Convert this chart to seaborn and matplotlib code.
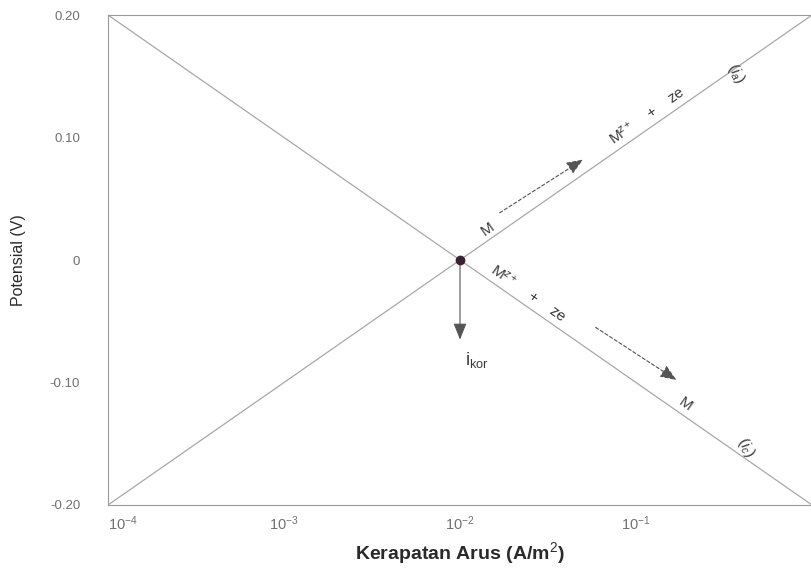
import matplotlib
matplotlib.use("Agg")
import matplotlib.pyplot as plt
import numpy as np
import pandas as pd
import seaborn as sns

# Tafel lines (current density in A/m^2, potential in V)
current = [1e-4, 1e0]
anodic_potential = [-0.20, 0.20]
cathodic_potential = [0.20, -0.20]

# corrosion point
i_kor = 1e-2
e_kor = 0.0

y_ticks = [0.20, 0.10, 0.0, -0.10, -0.20]
y_tick_labels = ["0.20", "0.10", "0", "-0.10", "-0.20"]
x_ticks = [1e-4, 1e-3, 1e-2, 1e-1]
x_tick_labels = ["10$^{-4}$", "10$^{-3}$", "10$^{-2}$", "10$^{-1}$"]

sns.set_style("white")
plt.rcParams["font.family"] = ["Liberation Sans", "DejaVu Sans"]
plt.rcParams["mathtext.fontset"] = "custom"
plt.rcParams["mathtext.rm"] = "Liberation Sans"
plt.rcParams["mathtext.it"] = "Liberation Sans:italic"

df = pd.DataFrame({
    "i": current + current,
    "E": anodic_potential + cathodic_potential,
    "branch": ["anodic"] * 2 + ["cathodic"] * 2,
})

fig = plt.figure(figsize=(8.11, 5.69), dpi=100)
ax = fig.add_axes([0.1332, 0.1125, 0.868, 0.8611])

line_col = "#a8a8a8"
sns.lineplot(data=df, x="i", y="E", units="branch", estimator=None,
             color=line_col, linewidth=0.9, ax=ax, legend=False)

ax.set_xscale("log")
ax.set_xlim(1e-4, 1e0)
ax.set_ylim(-0.20, 0.20)

for side in ["left", "bottom", "top", "right"]:
    ax.spines[side].set_color("#9a9a9a")
    ax.spines[side].set_linewidth(0.8)

ax.set_yticks(y_ticks)
ax.set_yticklabels(y_tick_labels)
ax.set_xticks(x_ticks)
ax.set_xticklabels(x_tick_labels)
ax.minorticks_off()
ax.tick_params(axis="y", length=0, pad=20, labelsize=9.5, labelcolor="#707070")
ax.tick_params(axis="x", length=0, pad=7, labelsize=10.5, labelcolor="#707070")
ax.get_xticklabels()[0].set_ha("left")

ax.set_ylabel("Potensial (V)", fontsize=11.5, color="#2a2a2a")
ax.yaxis.set_label_coords(-0.117, 0.5)
ax.set_xlabel("Kerapatan Arus (A/m$^2$)", fontsize=14, color="#2a2a2a",
              fontweight="bold")
ax.xaxis.set_label_coords(0.5, -0.072)

# corrosion point
ax.plot([i_kor], [e_kor], marker="o", markersize=6, color="#3a2233", zorder=5)

dash_kw = dict(arrowstyle="-|>,head_length=1.0,head_width=0.4", lw=0.8,
               linestyle=(0, (3, 2)), shrinkA=0, shrinkB=0,
               color="#555555", facecolor="#2b1f26")

# anodic reaction arrow (above the anodic line)
ax.annotate("", xy=(0.050, 0.082), xytext=(0.0168, 0.0385), arrowprops=dash_kw)
# cathodic reaction arrow
ax.annotate("", xy=(0.17, -0.098), xytext=(0.059, -0.055), arrowprops=dash_kw)
# i_kor arrow
ax.annotate("", xy=(i_kor, -0.065), xytext=(i_kor, e_kor),
            arrowprops=dict(arrowstyle="-|>,head_length=1.0,head_width=0.4",
                            color="#555555", facecolor="#2b1f26", lw=0.8,
                            shrinkA=0, shrinkB=0))

txt = dict(color="#3a3a3a", ha="center", va="center", fontsize=11)
ax.text(0.0143, 0.025, "M", rotation=35, **txt)
ax.text(0.115, 0.118, "M$^{z+}$    +    ze", rotation=35, **txt)
ax.text(0.37, 0.152, "($i_a$)", rotation=-60, **txt)
ax.text(0.0245, -0.027, "M$^{z+}$    +    ze", rotation=-35, **txt)
ax.text(0.19, -0.118, "M", rotation=-35, **txt)
ax.text(0.42, -0.153, "($i_c$)", rotation=-60, **txt)
ax.text(0.0124, -0.082, "i$_{\\mathrm{kor}}$", color="#3a3a3a", ha="center",
        va="center", fontsize=13)

fig.savefig("out.png", dpi=100)
